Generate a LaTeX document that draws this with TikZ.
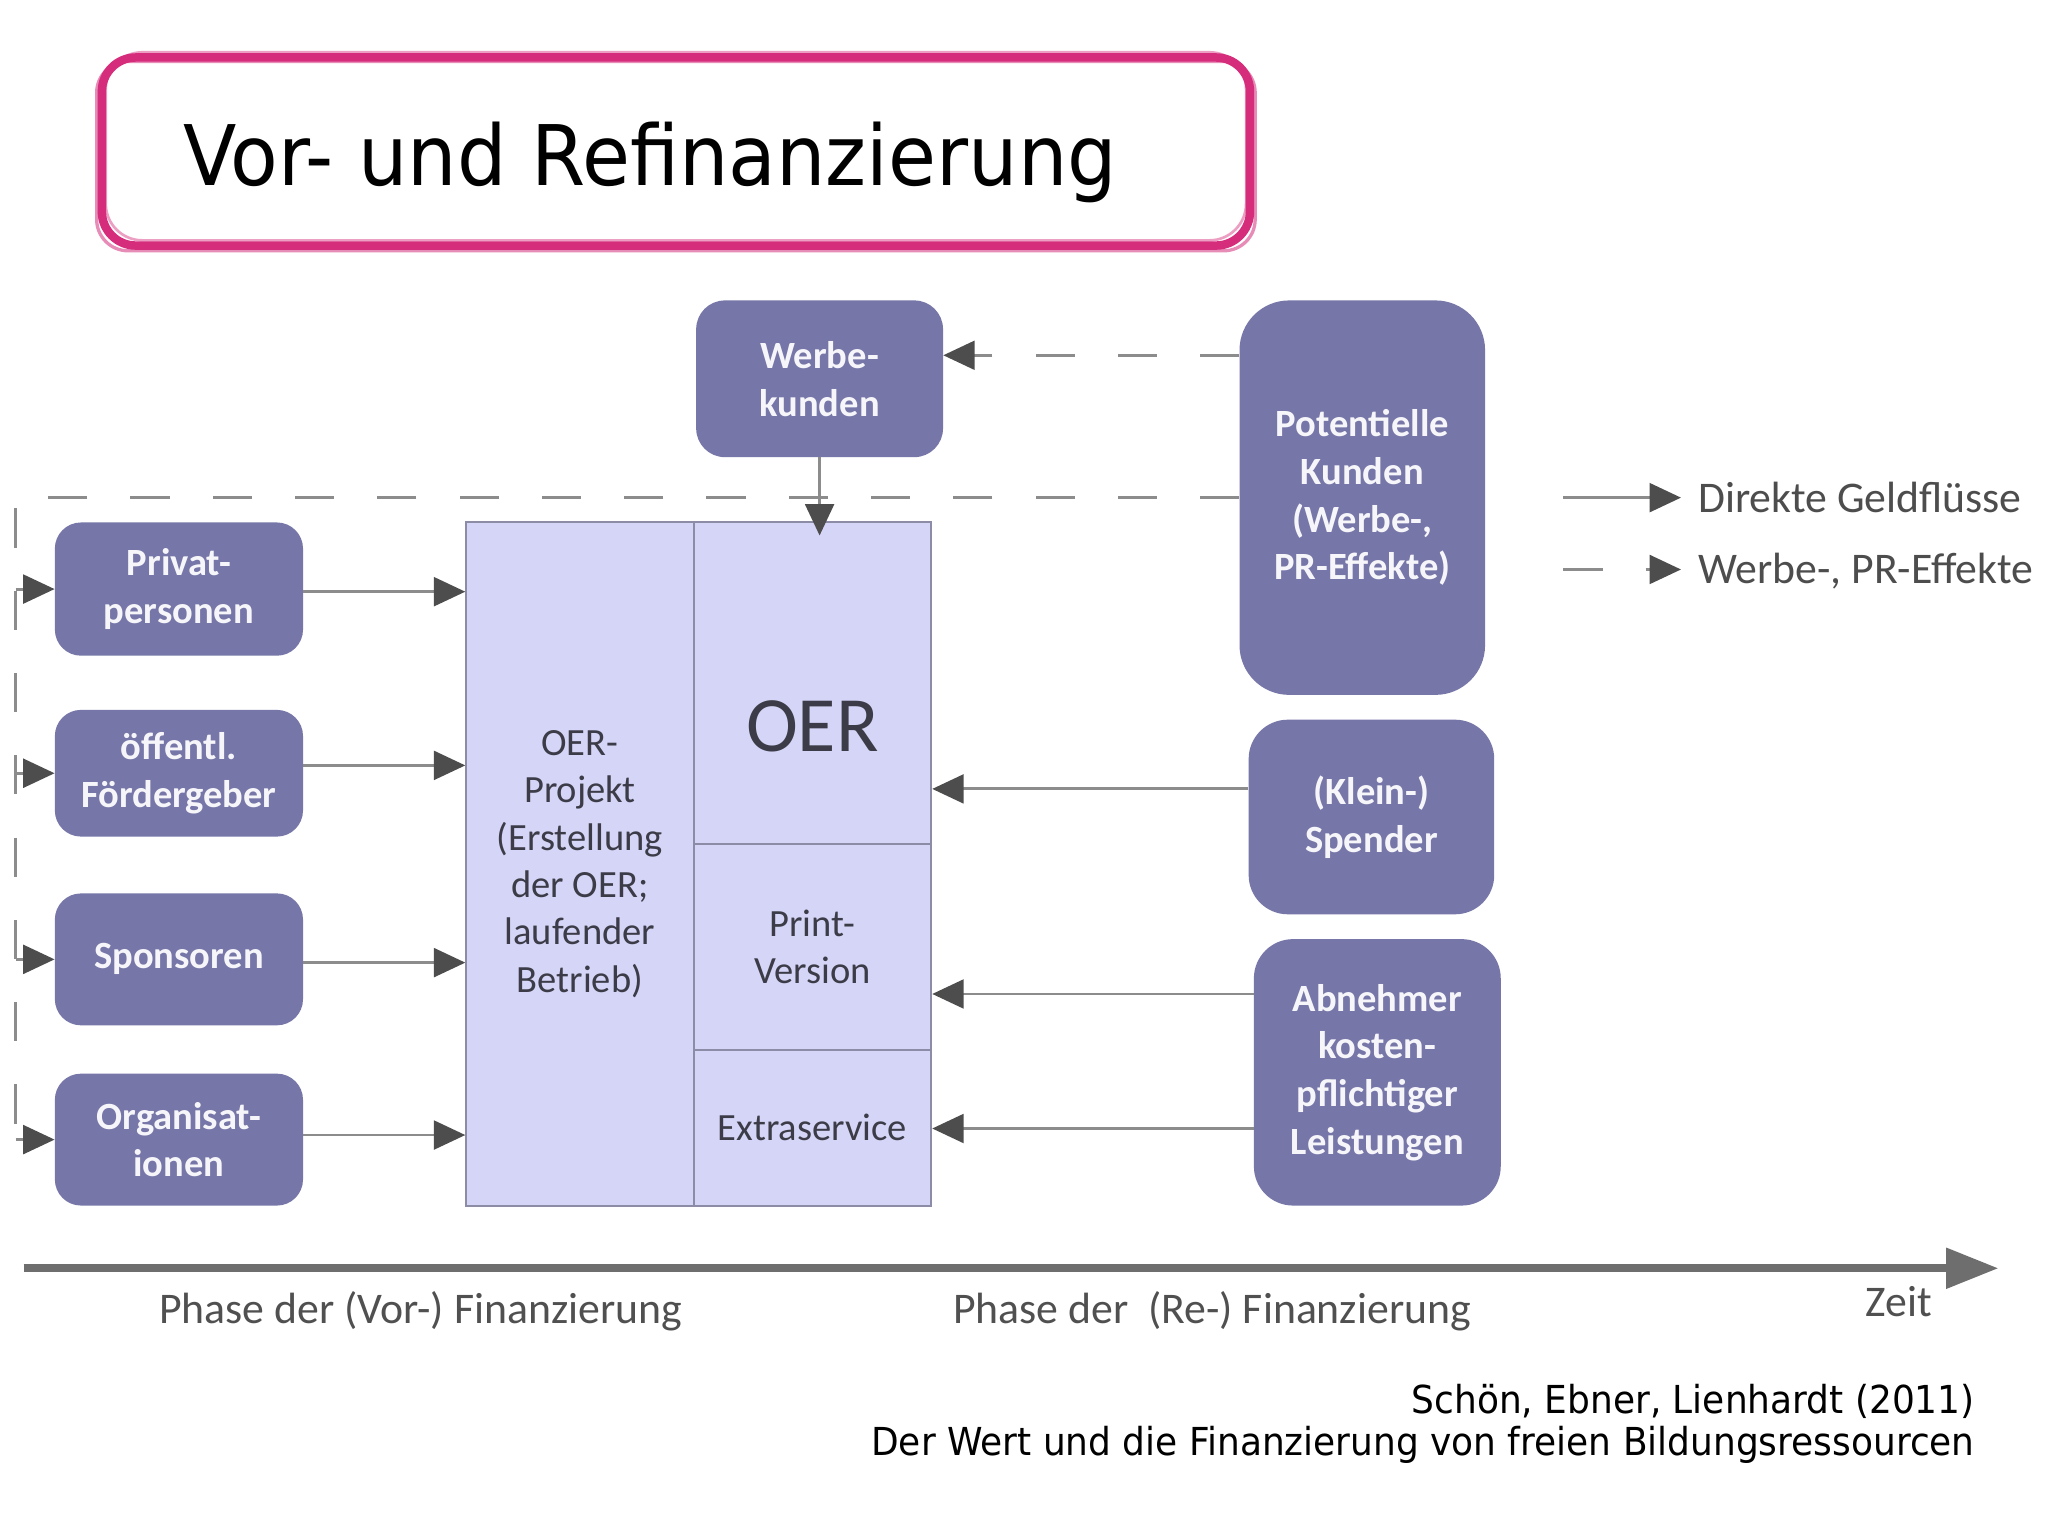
\documentclass[tikz,border=0pt]{standalone}
\usepackage{fontspec}
\setmainfont{Carlito}
\newfontfamily\verd[FakeStretch=0.933]{DejaVu Sans}
\usetikzlibrary{arrows.meta}
\definecolor{boxfill}{HTML}{7676A8}
\definecolor{boxtext}{HTML}{F6F6FA}
\definecolor{cellfill}{HTML}{D5D5F7}
\definecolor{cellborder}{HTML}{8C8CA6}
\definecolor{celltext}{HTML}{3C3C48}
\definecolor{linec}{HTML}{8C8C8C}
\definecolor{headc}{HTML}{4D4D4D}
\definecolor{timec}{HTML}{6E6E6E}
\definecolor{labelc}{HTML}{505050}
\definecolor{titlec}{HTML}{D52C7C}
\begin{document}
\begin{tikzpicture}[x=1pt,y=-1pt,
  actor/.style={fill=boxfill, rounded corners=20pt, text=boxtext,
    font=\fontsize{29.5}{36.5}\selectfont\bfseries, align=center, inner sep=0pt},
  cell/.style={draw=cellborder, fill=cellfill, line width=1.5pt, inner sep=0pt,
    text=celltext, font=\fontsize{29.5}{36.3}\selectfont, align=center},
  money/.style={draw=linec, line width=2.2pt,
    -{Triangle[length=24pt,width=22pt,color=headc,fill=headc]}},
  pr/.style={money, dash pattern=on 30pt off 33pt},
  prline/.style={draw=linec, line width=2pt, dash pattern=on 30pt off 33pt},
  lab/.style={text=labelc, font=\fontsize{33.5}{40}\selectfont, inner sep=0pt}
]
\useasboundingbox (0,0) rectangle (1568,1176);
\fill[white] (0,0) rectangle (1568,1176);

% title
\node[draw=titlec, line width=6.5pt, rounded corners=26pt, minimum width=879pt,
  minimum height=144pt, inner sep=0pt] (titlebox) at (517.5,116) {};
\draw[titlec, line width=2.5pt, opacity=0.55, rounded corners=24pt]
  (74,47) rectangle (961,192);
\draw[titlec, line width=2pt, opacity=0.45, rounded corners=28pt]
  (81,40) rectangle (954,184);
\node[anchor=base west, inner sep=0pt, font=\verd\fontsize{64}{70}\selectfont]
  (title) at (140,142) {Vor- und Refinanzierung};

% actors
\node[actor, minimum width=189pt, minimum height=120pt, rounded corners=22pt]
  (werbe) at (627.5,290) {Werbe-\\kunden};
\node[actor, minimum width=188pt, minimum height=302pt, rounded corners=38pt]
  (pot) at (1043,381) {Potentielle\\Kunden\\(Werbe-,\\PR-Effekte)};
\node[actor, minimum width=188pt, minimum height=149pt, rounded corners=30pt]
  (spender) at (1050,625.5) {(Klein-)\\Spender};
\node[actor, minimum width=189pt, minimum height=204pt, rounded corners=30pt]
  (abn) at (1054.5,821) {Abnehmer\\kosten-\\pflichtiger\\Leistungen};

\node[actor, minimum width=190pt, minimum height=102pt] (priv) at (137,451) {Privat-\\personen};
\node[actor, minimum width=190pt, minimum height=97pt] (oeff) at (137,592) {öffentl.\\Fördergeber};
\node[actor, minimum width=190pt, minimum height=101pt] (spons) at (137,734.5) {Sponsoren};
\node[actor, minimum width=190pt, minimum height=101pt] (org) at (137,872.5) {Organisat-\\ionen};

% central block
\node[cell, minimum width=174pt, minimum height=523pt] (proj) at (444,661.5)
  {OER-\\Projekt\\(Erstellung\\der OER;\\laufender\\Betrieb)};
\node[cell, minimum width=182pt, minimum height=246pt] (oercell) at (622,523) {};
\node[cell, minimum width=182pt, minimum height=158pt] (print) at (622,725) {Print-\\Version};
\node[cell, minimum width=182pt, minimum height=119pt] (extra) at (622,863.5) {Extraservice};
\node[text=celltext, font=\fontsize{60}{60}\selectfont, inner sep=0pt] (oertxt) at (622,556) {OER};

% money flows
\draw[money] (priv.east |- 0,453) -- (proj.west |- 0,453);
\draw[money] (oeff.east |- 0,586) -- (proj.west |- 0,586);
\draw[money] (spons.east |- 0,737) -- (proj.west |- 0,737);
\draw[money] (org.east |- 0,869) -- (proj.west |- 0,869);
\draw[money] (spender.west |- 0,604) -- (oercell.east |- 0,604);
\draw[money] (abn.west |- 0,761) -- (print.east |- 0,761);
\draw[money] (abn.west |- 0,864) -- (extra.east |- 0,864);
\draw[money] (werbe.south) -- (werbe.south |- 0,410);

% PR effects
\coordinate (lt) at (12,381);
\coordinate (lb) at (12,872);
\draw[pr] (pot.west |- 0,272) -- (werbe.east |- 0,272);
\draw[prline] (pot.west) -- (lt) -- (lb);
\draw[pr] (lb |- priv.west) -- (priv.west);
\draw[pr] (lb |- oeff.west) -- (oeff.west);
\draw[pr] (lb |- spons.west) -- (spons.west);
\draw[pr] (lb |- org.west) -- (org.west);

% legend
\coordinate (l1a) at (1197,381);
\coordinate (l1b) at (1287,381);
\coordinate (l2a) at (1197,436);
\coordinate (l2b) at (1287,436);
\draw[money] (l1a) -- (l1b);
\draw[pr] (l2a) -- (l2b);
\node[lab, anchor=base west, text=headc] (leg1) at (1300,392) {Direkte Geldflüsse};
\node[lab, anchor=base west, text=headc] (leg2) at (1300,447) {Werbe-, PR-Effekte};

% timeline
\coordinate (t0) at (18,971);
\coordinate (t1) at (1530,971);
\draw[timec, line width=6pt, -{Triangle[length=40pt,width=30pt]}] (t0) -- (t1);
\node[lab, anchor=base] (ph1) at (322,1013) {Phase der (Vor-) Finanzierung};
\node[lab, anchor=base] (ph2) at (928,1013) {Phase der\ \ (Re-) Finanzierung};
\node[lab, anchor=base west] (zeit) at (1428,1008) {Zeit};

% citation
\node[anchor=base east, inner sep=0pt, font=\verd\fontsize{29.5}{34}\selectfont]
  (cit1) at (1512,1082) {Schön, Ebner, Lienhardt (2011)};
\node[anchor=base east, inner sep=0pt, font=\verd\fontsize{29.5}{34}\selectfont]
  (cit2) at (1512,1114) {Der Wert und die Finanzierung von freien Bildungsressourcen};
\end{tikzpicture}
\end{document}
